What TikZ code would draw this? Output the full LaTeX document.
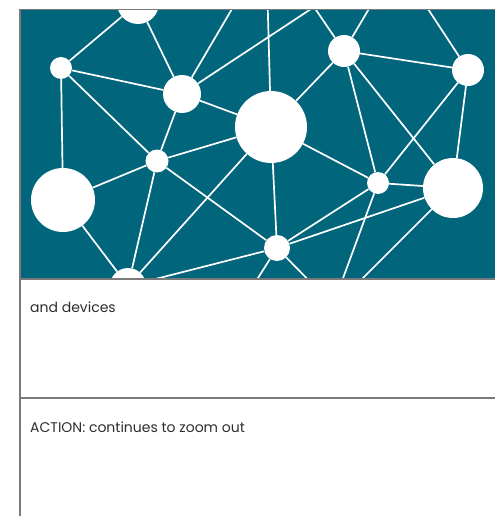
\documentclass[tikz,border=0pt]{standalone}
\usepackage{fontspec}
\setmainfont{Poppins}
\usetikzlibrary{positioning}
\definecolor{netteal}{RGB}{1,101,124}
\definecolor{frameGray}{RGB}{122,122,122}
\definecolor{textGray}{RGB}{45,45,45}

\begin{document}
\begin{tikzpicture}[x=1pt, y=-1pt, every node/.style={font=\fontsize{14}{16}\selectfont, text=textGray},
  dot/.style={circle, fill=white, inner sep=0pt},
  link/.style={white, line width=1.7pt}]
\useasboundingbox (0,0) rectangle (495,516);

% Panel
\fill[netteal] (20,10) rectangle (495,278);
\begin{scope}
\clip (20,10) rectangle (495,278);
% Nodes
\node[dot, minimum size=42pt] (top) at (138,3) {};
\node[dot, minimum size=22pt] (nw) at (61,68) {};
\node[dot, minimum size=38pt] (mid) at (182,94) {};
\node[dot, minimum size=23pt] (hub) at (157,161) {};
\node[dot, minimum size=64pt] (west) at (63,200) {};
\node[dot, minimum size=36pt] (bot) at (128,286) {};
\node[dot, minimum size=72pt] (core) at (271,127) {};
\node[dot, minimum size=32pt] (ne) at (344,51) {};
\node[dot, minimum size=32pt] (far) at (468,70) {};
\node[dot, minimum size=22pt] (link1) at (378,183) {};
\node[dot, minimum size=60pt] (east) at (453,188) {};
\node[dot, minimum size=26pt] (south) at (277,248) {};
% Off-panel ends
\coordinate (o1) at (249,-20);
\coordinate (o2) at (314,7);
\coordinate (o3) at (267,-20);
\coordinate (o4) at (386,-20);
\coordinate (o5) at (409,-20);
\coordinate (o6) at (335,300);
\coordinate (o7) at (341,300);
\coordinate (o8) at (244,300);
\coordinate (o9) at (328,300);
% Links
\draw[link] (top) -- (nw);
\draw[link] (top) -- (mid);
\draw[link] (nw) -- (mid);
\draw[link] (nw) -- (hub);
\draw[link] (nw) -- (west);
\draw[link] (mid) -- (hub);
\draw[link] (mid) -- (o1);
\draw[link] (mid) -- (o2);
\draw[link] (mid) -- (core);
\draw[link] (hub) -- (west);
\draw[link] (hub) -- (core);
\draw[link] (hub) -- (bot);
\draw[link] (hub) -- (south);
\draw[link] (west) -- (bot);
\draw[link] (bot) -- (core);
\draw[link] (bot) -- (south);
\draw[link] (core) -- (o3);
\draw[link] (o2) -- (ne);
\draw[link] (ne) -- (o4);
\draw[link] (ne) -- (far);
\draw[link] (ne) -- (core);
\draw[link] (ne) -- (link1);
\draw[link] (ne) -- (east);
\draw[link] (far) -- (o5);
\draw[link] (far) -- (link1);
\draw[link] (far) -- (east);
\draw[link] (core) -- (link1);
\draw[link] (core) -- (south);
\draw[link] (link1) -- (east);
\draw[link] (link1) -- (south);
\draw[link] (link1) -- (o6);
\draw[link] (east) -- (south);
\draw[link] (east) -- (o7);
\draw[link] (south) -- (o8);
\draw[link] (south) -- (o9);
\end{scope}

% Frame
\draw[frameGray, line width=1.5pt] (495,9.5) -- (20,9.5) -- (20,516);
\draw[frameGray, line width=1.5pt] (20,279) -- (495,279);
\draw[frameGray, line width=1.2pt] (20,398) -- (495,398);

% Captions
\node[anchor=base west, inner sep=0pt] (cap1) at (30,312.7) {and devices};
\node[anchor=base west, inner sep=0pt] (cap2) at (30,432) {ACTION: continues to zoom out};
\end{tikzpicture}
\end{document}
